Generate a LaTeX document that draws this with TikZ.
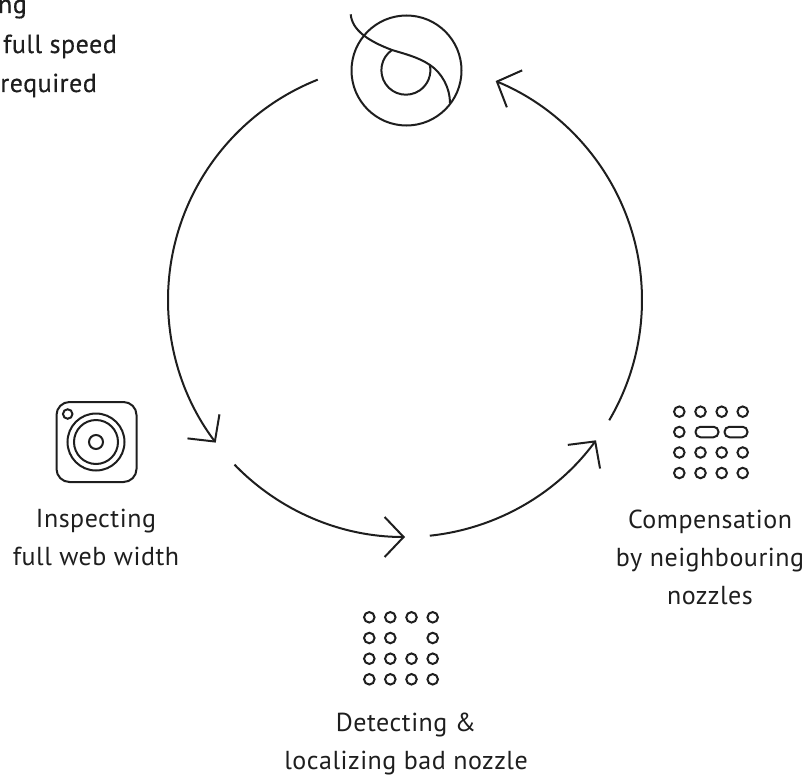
\documentclass[tikz,border=0pt]{standalone}
\usepackage{fontspec}
\setmainfont[LetterSpace=2]{PT Sans}
\usetikzlibrary{arrows.meta}
\definecolor{ink}{RGB}{30,30,30}
\tikzset{
  line/.style={draw=ink,line width=2pt},
  dot/.style={circle,line,inner sep=0pt,minimum size=10.5pt},
  pill/.style={rectangle,rounded corners=5pt,line,inner sep=0pt,minimum height=10.5pt,minimum width=23pt},
  flow/.style={line,-{Straight Barb[length=19pt,width=40pt,line width=2pt]}},
  caption/.style={text=ink,align=center,font=\fontsize{26}{38}\selectfont},
  topnote/.style={text=ink,anchor=base east,inner sep=0pt,font=\fontsize{26}{38}\selectfont\addfontfeature{FakeBold=0.4}}
}
\begin{document}
\begin{tikzpicture}
  [x=1pt,y=-1pt]
  \useasboundingbox (0,0) rectangle (808,776);
  \coordinate (hub) at (405,300);

  \foreach \from/\to in {248.4/143,136/90,84/36.3,30.5/-67.5}
    \draw[flow] ([shift={(\from:237)}]hub) arc[start angle=\from,end angle=\to,radius=237];

  % logo
  \node[circle,line,minimum size=110pt,inner sep=0pt] (logo) at (406.5,70.5) {};
  \coordinate (s1) at (350.7,14.3);
  \coordinate (s2) at (392,50);
  \coordinate (s3) at (430,65);
  \coordinate (s4) at (450,103);
  \draw[line] (s1) .. controls (352,30) and (368,41) .. (s2)
    .. controls (405,54) and (418,57) .. (s3) .. controls (442,73) and (450,88) .. (s4);
  \draw[line] (s2) arc[start angle=235.5,end angle=-12.7,radius=24.5];

  % camera
  \node[rectangle,rounded corners=13pt,line,minimum size=80pt,inner sep=0pt] (camera) at (96.5,442) {};
  \node[dot,minimum size=57pt] (lens1) at (96,442) {};
  \node[dot,minimum size=44pt] (lens2) at (96,442) {};
  \node[dot,minimum size=14pt] (lens3) at (96,442) {};
  \node[dot,minimum size=9.5pt] (flash) at (67.7,414) {};

  % bad nozzle grid
  \foreach \row/\py in {1/617.3,3/658.7,4/679.3}
    \foreach \col/\px in {1/369.3,2/390.3,3/411.5,4/432.7}
      \node[dot] (d\col\row) at (\px,\py) {};
  \foreach \col/\px in {1/369.3,2/390.3,4/432.7}
    \node[dot] (d\col2) at (\px,638) {};

  % compensated grid
  \foreach \row/\py in {1/411.7,3/452.5,4/473}
    \foreach \col/\px in {1/679.3,2/700.5,3/721.7,4/742.7}
      \node[dot] (c\col\row) at (\px,\py) {};
  \node[dot] (c12) at (679.3,432) {};
  \node[pill] (c22) at (707,432) {};
  \node[pill] (c32) at (736,432) {};

  \node[caption] (inspect) at (96,537) {Inspecting\\full web width};
  \node[caption] (detect) at (406,744) {Detecting \&\\localizing bad nozzle};
  \node[caption] (comp) at (710,557) {Compensation\\by neighbouring\\nozzles};

  \node[topnote] (note1) at (27,13) {ng};
  \node[topnote] (note2) at (117,53) {full speed};
  \node[topnote] (note3) at (97,92) {required};
\end{tikzpicture}
\end{document}
